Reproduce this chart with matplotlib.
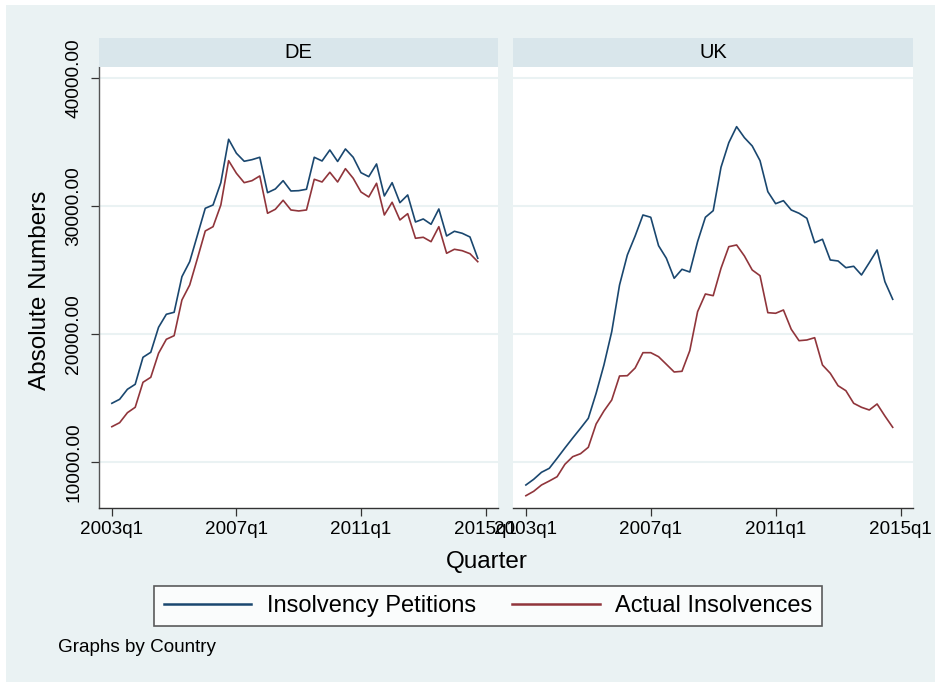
import matplotlib
matplotlib.use("Agg")
import matplotlib.pyplot as plt
from matplotlib.patches import Rectangle
from matplotlib.lines import Line2D

plt.rcParams['font.family'] = ['Liberation Sans', 'DejaVu Sans']

# quarters 2003q1 .. 2014q4 (index 0 = 2003q1)
quarters = list(range(48))
tick_pos = [0, 16, 32, 48]
tick_labels = ['2003q1', '2007q1', '2011q1', '2015q1']
y_ticks = [10000, 20000, 30000, 40000]

de_petitions = [14609, 14922, 15703, 16094, 18203, 18594, 20547, 21563, 21719, 24500,
                25672, 27758, 29844, 30102, 31844, 35234, 34141, 33516, 33641, 33828,
                31063, 31352, 32000, 31195, 31219, 31328, 33828, 33539, 34398, 33500,
                34477, 33828, 32625, 32313, 33305, 30805, 31844, 30281, 30883, 28773,
                29008, 28594, 29789, 27680, 28047, 27891, 27602, 25938]
de_actual = [12781, 13094, 13875, 14297, 16250, 16641, 18516, 19609, 19891, 22680,
             23852, 25938, 28070, 28406, 30102, 33563, 32578, 31844, 32000, 32367,
             29453, 29766, 30469, 29711, 29633, 29711, 32109, 31898, 32656, 31898,
             32938, 32188, 31117, 30727, 31797, 29320, 30313, 28930, 29422, 27500,
             27578, 27234, 28406, 26328, 26641, 26531, 26297, 25672]
uk_petitions = [8227, 8672, 9219, 9531, 10313, 11117, 11898, 12656, 13438, 15391,
                17602, 20203, 23852, 26195, 27680, 29320, 29141, 26922, 25938, 24375,
                25078, 24867, 27234, 29141, 29656, 33047, 34969, 36219, 35359, 34711,
                33563, 31141, 30203, 30438, 29711, 29453, 29063, 27156, 27422, 25805,
                25727, 25203, 25313, 24633, 25594, 26586, 24109, 22734]
uk_actual = [7391, 7734, 8227, 8539, 8875, 9844, 10438, 10672, 11172, 12992,
             14008, 14867, 16742, 16766, 17367, 18563, 18563, 18250, 17656, 17055,
             17109, 18719, 21766, 23148, 23016, 25156, 26844, 26977, 26117, 25023,
             24578, 21688, 21641, 21898, 20391, 19500, 19555, 19734, 17602, 16953,
             15984, 15594, 14609, 14297, 14086, 14555, 13617, 12734]

countries = ['DE', 'UK']
series = {'DE': (de_petitions, de_actual), 'UK': (uk_petitions, uk_actual)}

W, H = 935, 682
bg = '#EAF2F3'
strip_col = '#D9E6EB'
navy = '#1A476F'
maroon = '#90353B'

fig = plt.figure(figsize=(W / 100, H / 100), dpi=100)
fig.patch.set_facecolor('white')
# light bluish graph region, white margin on top/left
fig.patches.append(Rectangle((6 / W, 0), 1, 1 - 5 / H, transform=fig.transFigure,
                             facecolor=bg, edgecolor='none', zorder=-10))

def px(x0, y0, x1, y1):
    " pixel box (top-left origin) -> figure fraction rect "
    return [x0 / W, 1 - y1 / H, (x1 - x0) / W, (y1 - y0) / H]

panel_x = {'DE': (99, 498), 'UK': (513, 913)}

for c in countries:
    x0, x1 = panel_x[c]
    ax = fig.add_axes(px(x0, 67, x1, 508))
    ax.set_facecolor('white')
    pet, act = series[c]
    ax.plot(quarters, pet, color=navy, lw=1.2, zorder=3)
    ax.plot(quarters, act, color=maroon, lw=1.2, zorder=3)
    ax.set_xlim(-1.65, 49.6)
    ax.set_ylim(6430, 40880)
    ax.set_yticks(y_ticks)
    ax.grid(axis='y', color=bg, lw=1.5, zorder=0)
    ax.set_xticks(tick_pos)
    ax.set_xticklabels(tick_labels, fontsize=13.6)
    ax.tick_params(axis='x', direction='out', length=6, width=0.9, color='#333333', pad=3)
    for s in ['top', 'right']:
        ax.spines[s].set_visible(False)
    ax.spines['bottom'].set_color('#333333')
    ax.spines['bottom'].set_linewidth(1.0)
    if c == 'DE':
        ax.spines['left'].set_color('#555555')
        ax.spines['left'].set_linewidth(1.0)
        ax.set_yticklabels(['%.2f' % v for v in y_ticks], fontsize=13.8,
                           rotation=90, va='center')
        ax.tick_params(axis='y', direction='out', length=6, width=0.9, color='#333333', pad=6)
    else:
        ax.spines['left'].set_visible(False)
        ax.tick_params(axis='y', left=False, labelleft=False)

    # strip with country name
    sax = fig.add_axes(px(x0, 38, x1, 67))
    sax.set_facecolor(strip_col)
    sax.set_xticks([])
    sax.set_yticks([])
    for s in sax.spines.values():
        s.set_visible(False)
    sax.text(0.5, 0.5, c, ha='center', va='center', fontsize=14.5, transform=sax.transAxes)

# axis titles
fig.text(40 / W, 1 - 290 / H, 'Absolute Numbers', rotation=90, ha='center', va='center', fontsize=17.5)
fig.text(487 / W, 1 - 562 / H, 'Quarter', ha='center', va='center', fontsize=17.5)

# legend
handles = [Line2D([], [], color=navy, lw=1.8), Line2D([], [], color=maroon, lw=1.8)]
leg = fig.legend(handles, ['Insolvency Petitions', 'Actual Insolvences'], ncol=2,
                 loc='center', bbox_to_anchor=(488 / W, 1 - 606 / H), fontsize=17,
                 frameon=True, fancybox=False, handlelength=3.7, handletextpad=0.65,
                 columnspacing=1.55, borderpad=0.4)
leg.get_frame().set_edgecolor('#333333')
leg.get_frame().set_linewidth(1.2)

fig.text(58 / W, 1 - 647 / H, 'Graphs by Country', ha='left', va='center', fontsize=13.6)

fig.savefig('out.png', dpi=100, facecolor=fig.get_facecolor())
